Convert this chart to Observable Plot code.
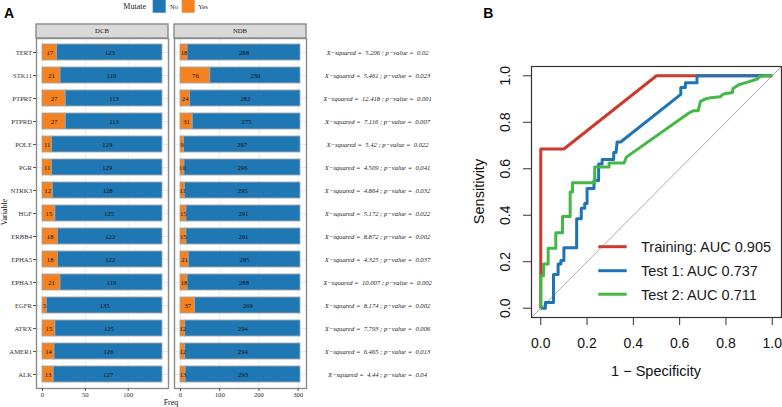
<!DOCTYPE html>
<html><head><meta charset="utf-8">
<script src="https://cdn.jsdelivr.net/npm/d3@7"></script>
<script src="https://cdn.jsdelivr.net/npm/@observablehq/plot@0.6"></script>
<style>
body{margin:0;background:#fff;}
#root{position:relative;width:782px;height:407px;overflow:hidden;background:#fff;}
#root > svg, #root > div{position:absolute;}
</style></head><body><div id="root"></div>
<script>
// ---------- Panel A data ----------
const genes = ["TERT","STK11","PTPRT","PTPRD","POLE","PGR","NTRK3","HGF","ERBB4","EPHA5","EPHA3","EGFR","ATRX","AMER1","ALK"];
const dcbYes = [17,21,27,27,11,11,12,15,18,18,21,5,15,14,13];
const dcbNo  = [123,119,113,113,129,129,128,125,122,122,119,135,125,126,127];
const ndbYes = [18,76,24,31,9,10,11,15,15,21,18,37,12,12,13];
const ndbNo  = [288,230,282,275,297,296,295,291,291,285,288,269,294,294,293];
const xSquared = ["5.206","5.461","12.418","7.116","5.42","4.509","4.864","5.172","8.872","4.325","10.007","8.174","7.793","6.465","4.44"];
const pValues  = ["0.02","0.023","0.001","0.007","0.022","0.041","0.032","0.022","0.002","0.037","0.002","0.002","0.006","0.013","0.04"];
const facets = ["DCB","NDB"];
const mutateLevels = ["No","Yes"];
const dcbTicks = [0,50,100], dcbMinor = [25,75,125];
const ndbTicks = [0,100,200,300], ndbMinor = [50,150,250];

// ---------- Panel B data ----------
const rocTicks = [0,0.2,0.4,0.6,0.8,1.0];
const diagonal = [-0.04, 1.04];
const seriesNames = ["Training","Test 1","Test 2"];
const aucValues = ["0.905","0.737","0.711"];
const trainFpr = [0,0,0.1,0.5,1];
const trainTpr = [0,0.685,0.685,1,1];
const test1Fpr = [0,0.02,0.02,0.055,0.055,0.075,0.075,0.087,0.087,0.1,0.1,0.155,0.155,0.175,0.175,0.19,0.19,0.2,0.2,0.23,0.23,0.25,0.25,0.265,0.265,0.315,0.315,0.325,0.33,0.345,0.605,0.605,0.625,0.625,0.675,0.675,1];
const test1Tpr = [0,0,0.025,0.025,0.145,0.145,0.19,0.19,0.205,0.205,0.26,0.26,0.385,0.385,0.43,0.43,0.45,0.45,0.515,0.515,0.55,0.55,0.62,0.62,0.64,0.64,0.67,0.67,0.715,0.715,0.92,0.95,0.95,0.97,0.97,1,1];
const test2Fpr = [0,0,0.012,0.012,0.032,0.032,0.065,0.065,0.094,0.094,0.127,0.127,0.137,0.137,0.233,0.233,0.295,0.295,0.36,0.37,0.64,0.66,0.68,0.69,0.71,0.735,0.775,0.79,0.828,0.83,0.857,0.9,0.936,0.945,0.972,1];
const test2Tpr = [0,0.14,0.14,0.19,0.19,0.258,0.258,0.325,0.325,0.395,0.395,0.5,0.5,0.54,0.54,0.608,0.608,0.625,0.625,0.65,0.84,0.85,0.85,0.89,0.9,0.906,0.91,0.922,0.928,0.945,0.962,0.975,0.986,0.997,1,1];
const rocColors = ["#CB3B2C","#1F74B6","#45B746"];

const root = document.getElementById("root");
const serif = "'Liberation Serif', 'Times New Roman', serif";
const sans = "'Liberation Sans', Arial, Helvetica, sans-serif";
const barColors = ["#1F77B4","#F58220"];

function place(el, left, top){ el.style.left = left+"px"; el.style.top = top+"px"; root.appendChild(el); }

const yBand = {domain: genes, paddingInner: 0.3, paddingOuter: 0.25};

function facetPlot(yes, no, ticks, minor, showY, width, marginLeft){
  const rows = [];
  genes.forEach((g,i)=>{
    rows.push({gene:g, Mutate:"Yes", x1:0, x2:yes[i], v:yes[i]});
    rows.push({gene:g, Mutate:"No", x1:yes[i], x2:yes[i]+no[i], v:no[i]});
  });
  const total = d3.max(genes, (g,i)=>yes[i]+no[i]);
  const pad = total*0.05;
  return Plot.plot({
    width, height: 366, marginLeft, marginRight: 2, marginTop: 2, marginBottom: 14,
    style: {fontFamily: serif, fontSize: "6.7px", color: "#333", background: "transparent", overflow: "visible"},
    x: {domain: [-pad, total+pad]},
    y: showY ? yBand : {...yBand, axis: null},
    color: {domain: mutateLevels, range: barColors},
    marks: [
      Plot.ruleX(minor, {stroke: "#F3F3F3", strokeWidth: 0.6}),
      Plot.ruleX(ticks, {stroke: "#EBEBEB", strokeWidth: 1}),
      Plot.gridY({stroke: "#EBEBEB", strokeOpacity: 1, strokeWidth: 1}),
      Plot.barX(rows, {y: "gene", x1: "x1", x2: "x2", fill: "Mutate", stroke: "#A6A6A6", strokeWidth: 0.9}),
      Plot.text(rows, {y: "gene", x: d => (d.x1+d.x2)/2, text: "v", fontSize: 6.7, fill: "#111"}),
      Plot.frame({stroke: "#8A8A8A", strokeWidth: 1.4}),
      Plot.axisX({ticks, tickSize: 3, tickPadding: 1, label: null, stroke: "#555"}),
      showY ? Plot.axisY({tickSize: 3, tickPadding: 1.5, label: null, stroke: "#555", fill: "#333"}) : null
    ]
  });
}

place(facetPlot(dcbYes, dcbNo, dcbTicks, dcbMinor, true, 170, 36), 0, 36);
place(facetPlot(ndbYes, ndbNo, ndbTicks, ndbMinor, false, 136, 2), 172, 36);

// statistics column
const stats = genes.map((g,i)=>({gene:g, label:`X\u2212squared =  ${xSquared[i]} ; p\u2212value =  ${pValues[i]}`}));
place(Plot.plot({
  width: 142, height: 366, marginLeft: 0, marginRight: 0, marginTop: 2, marginBottom: 14,
  style: {fontFamily: serif, fontSize: "6.6px", color: "#222", background: "transparent", overflow: "visible", whiteSpace: "pre"},
  y: {...yBand, axis: null},
  marks: [Plot.text(stats, {y: "gene", text: "label", frameAnchor: "middle", fontStyle: "italic", fontSize: 6.6, fill: "#222"})]
}), 306, 36);

// ---------- Panel B ----------
const rocRows = [];
[[trainFpr,trainTpr],[test1Fpr,test1Tpr],[test2Fpr,test2Tpr]].forEach(([f,t],k)=>{
  f.forEach((v,i)=>rocRows.push({series: seriesNames[k], fpr: v, tpr: t[i]}));
});
place(Plot.plot({
  width: 312, height: 327, marginLeft: 61, marginRight: 1, marginTop: 26, marginBottom: 50,
  style: {fontFamily: sans, fontSize: "14px", color: "#111", background: "transparent", overflow: "visible"},
  x: {domain: [-0.04, 1.04]},
  y: {domain: [-0.04, 1.04]},
  color: {domain: seriesNames, range: rocColors},
  marks: [
    Plot.link([diagonal], {x1: d=>d[0], y1: d=>d[0], x2: d=>d[1], y2: d=>d[1], stroke: "#AAAAAA", strokeWidth: 1, clip: true}),
    Plot.line(rocRows, {x: "fpr", y: "tpr", z: "series", stroke: "series", strokeWidth: 3, strokeLinejoin: "round", strokeLinecap: "butt"}),
    Plot.frame({stroke: "#333", strokeWidth: 1.2}),
    Plot.axisX({ticks: rocTicks, tickSize: 8, tickPadding: 13, tickFormat: d3.format(".1f"), label: null, fontSize: 14, stroke: "#333"}),
    Plot.axisY({ticks: rocTicks, tickSize: 8, tickPadding: 14, tickRotate: -90, tickFormat: d3.format(".1f"), label: null, fontSize: 14, stroke: "#333"})
  ]
}), 470, 40);

// ---------- overlay: titles, legends, strips ----------
const ov = d3.select(root).append("svg").attr("width", 782).attr("height", 407).style("left","0px").style("top","0px").style("pointer-events","none");
ov.append("text").attr("x", 4).attr("y", 18.3).attr("font-family", sans).attr("font-weight", "bold").attr("font-size", 14).text("A");
ov.append("text").attr("x", 483.3).attr("y", 18.3).attr("font-family", sans).attr("font-weight", "bold").attr("font-size", 14).text("B");

// legend A
ov.append("text").attr("x", 123.3).attr("y", 8.8).attr("font-family", serif).attr("font-size", 8).attr("fill","#222").text("Mutate");
const legA = [{x:152.7, lx:170, c:barColors[0], t:mutateLevels[0]},{x:181.7, lx:198.3, c:barColors[1], t:mutateLevels[1]}];
legA.forEach(d=>{
  ov.append("rect").attr("x", d.x).attr("y", -0.3).attr("width", 13).attr("height", 13).attr("fill", d.c);
  ov.append("text").attr("x", d.lx).attr("y", 9).attr("font-family", serif).attr("font-size", 6.5).attr("fill","#222").text(d.t);
});

// strips
[[36,168],[174,306]].forEach(([a,b],k)=>{
  ov.append("rect").attr("x", a).attr("y", 24).attr("width", b-a).attr("height", 14).attr("fill", "#D9D9D9").attr("stroke", "#8A8A8A").attr("stroke-width", 1.4);
  ov.append("text").attr("x", (a+b)/2).attr("y", 33.3).attr("text-anchor","middle").attr("font-family", serif).attr("font-size", 6.7).attr("fill","#1a1a1a").text(facets[k]);
});

// axis titles A
ov.append("text").attr("transform","translate(6.5,212) rotate(-90)").attr("text-anchor","middle").attr("font-family", serif).attr("font-size", 8).attr("fill","#111").text("Variable");
ov.append("text").attr("x", 171).attr("y", 404.5).attr("text-anchor","middle").attr("font-family", serif).attr("font-size", 8).attr("fill","#111").text("Freq");

// axis titles B
ov.append("text").attr("transform","translate(483.5,191.5) rotate(-90)").attr("text-anchor","middle").attr("font-family", sans).attr("font-size", 14.5).attr("fill","#111").text("Sensitivity");
ov.append("text").attr("x", 656).attr("y", 376.4).attr("text-anchor","middle").attr("font-family", sans).attr("font-size", 14.5).attr("fill","#111").text("1 \u2212 Specificity");

// legend B
[252, 276, 299.5].forEach((yb,k)=>{
  ov.append("line").attr("x1", 598.3).attr("x2", 626.7).attr("y1", yb-5.3).attr("y2", yb-5.3).attr("stroke", rocColors[k]).attr("stroke-width", 3);
  ov.append("text").attr("x", 641).attr("y", yb).attr("font-family", sans).attr("font-size", 14.5).attr("fill","#1a1a1a").text(`${seriesNames[k]}: AUC ${aucValues[k]}`);
});
</script></body></html>
